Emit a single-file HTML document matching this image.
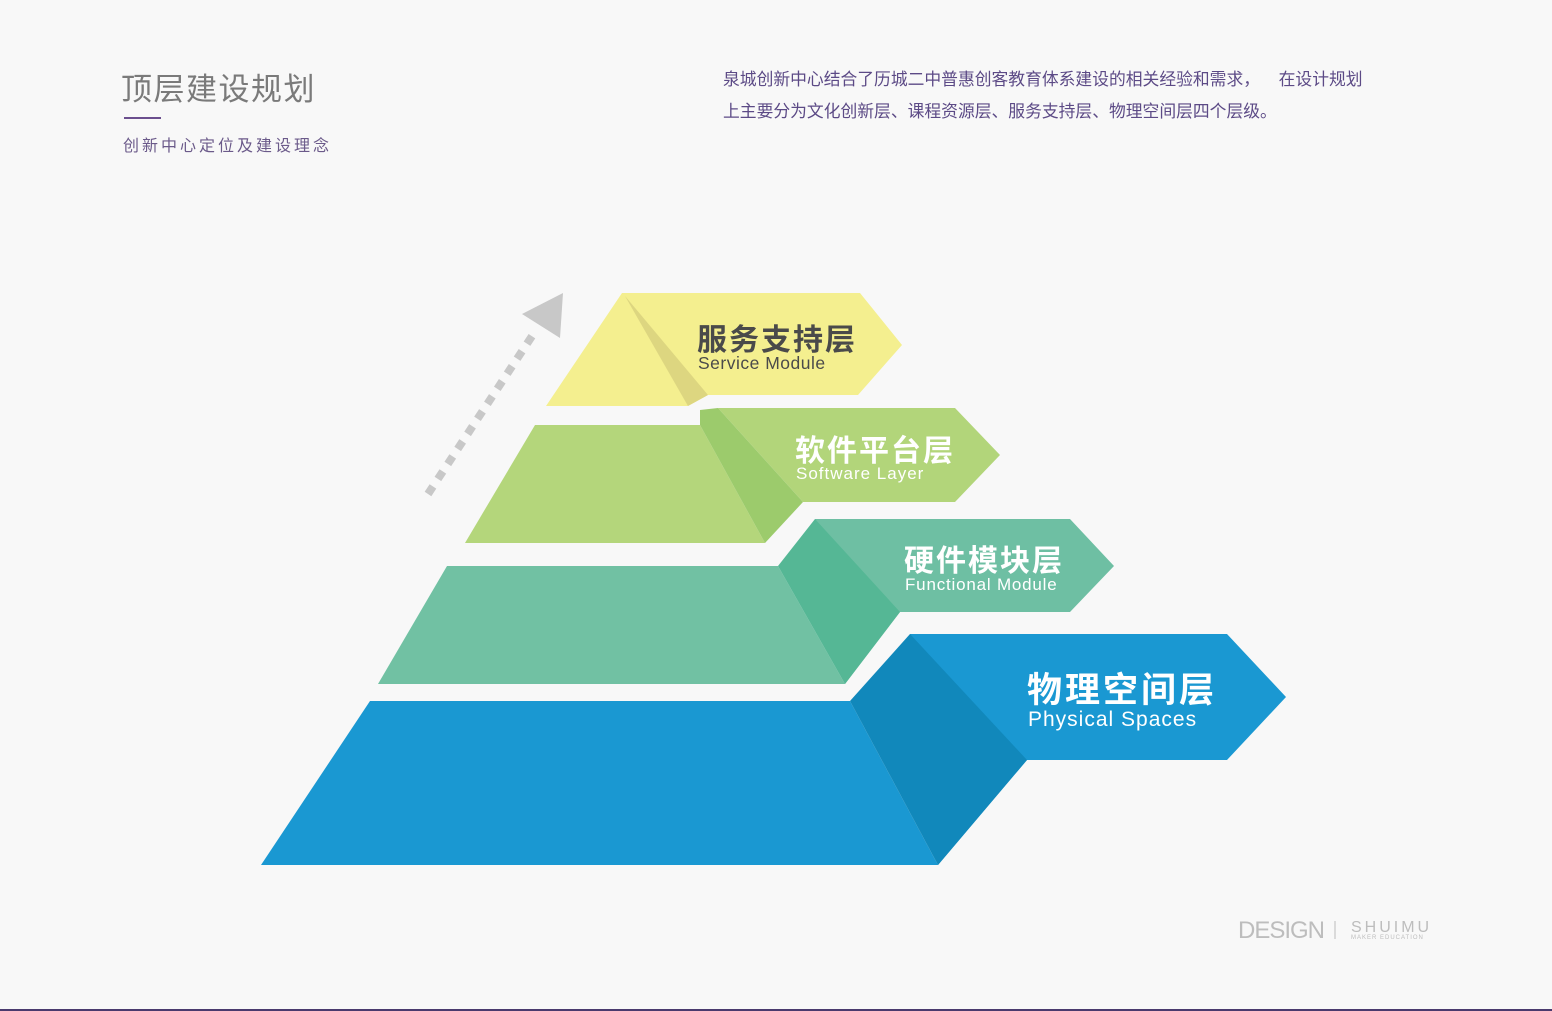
<!DOCTYPE html>
<html><head><meta charset="utf-8"><style>
html,body{margin:0;padding:0;background:#f8f8f8;}
body{width:1552px;height:1011px;position:relative;overflow:hidden;font-family:"Liberation Sans","Noto Sans CJK SC",sans-serif;}
.t{position:absolute;white-space:nowrap;}
</style></head><body>
<div class="t" style="left:121px;top:64px;font-size:31px;color:#7a7a7a;letter-spacing:1.5px;">顶层建设规划</div>
<div style="position:absolute;left:124px;top:117px;width:37px;height:2px;background:#6b4f8e;"></div>
<div class="t" style="left:123px;top:132px;font-size:16px;color:#6b5a8a;letter-spacing:3px;">创新中心定位及建设理念</div>
<div class="t" style="left:723px;top:64px;font-size:16.8px;color:#5c4a86;line-height:32px;">泉城创新中心结合了历城二中普惠创客教育体系建设的相关经验和需求，&nbsp;&nbsp;&nbsp;&nbsp;在设计规划<br>上主要分为文化创新层、课程资源层、服务支持层、物理空间层四个层级。</div>
<svg width="1552" height="1011" style="position:absolute;left:0;top:0" xmlns="http://www.w3.org/2000/svg">
<line x1="428" y1="494" x2="536" y2="330" stroke="#c8c8c8" stroke-width="8" stroke-dasharray="9,9"/>
<polygon points="522,314 563,293 560,338" fill="#c8c8c8"/>
<polygon points="546,406 622,293 860,293 902,345 858,395 708,395 688,406" fill="#f4ef8f"/>
<polygon points="625,296 708,395 688,406" fill="#ddd680"/>
<polygon points="465,543 535,425 700,425 765,543" fill="#b4d67b"/>
<polygon points="718,408 955,408 1000,455 955,502 803,502" fill="#b2d57a"/>
<polygon points="700,425 700,410 718,408 803,502 765,543" fill="#9ccb6c"/>
<polygon points="378,684 447,566 778,566 845,684" fill="#71c1a3"/>
<polygon points="815,519 1070,519 1114,566 1070,612 900,612 845,684" fill="#6ebfa3"/>
<polygon points="815,519 900,612 845,684 778,566" fill="#55b795"/>
<polygon points="261,865 370,701 850,701 938,865" fill="#1a98d2"/>
<polygon points="910,634 1227,634 1286,697 1227,760 1027,760 938,865" fill="#1a98d2"/>
<polygon points="910,634 1027,760 938,865 850,701" fill="#1188bb"/>
<text x="697" y="350" font-size="30" font-weight="bold" fill="#4a4a4a" letter-spacing="2" font-family="Noto Sans CJK SC,sans-serif">服务支持层</text>
<text x="698" y="369" font-size="17.5" fill="#4a4a4a" letter-spacing="0.5" font-family="Liberation Sans,sans-serif">Service Module</text>
<text x="795" y="461" font-size="30" font-weight="bold" fill="#fff" letter-spacing="2" font-family="Noto Sans CJK SC,sans-serif">软件平台层</text>
<text x="796" y="479" font-size="17" fill="#fff" letter-spacing="1" font-family="Liberation Sans,sans-serif">Software Layer</text>
<text x="904" y="571" font-size="30" font-weight="bold" fill="#fff" letter-spacing="2" font-family="Noto Sans CJK SC,sans-serif">硬件模块层</text>
<text x="905" y="590" font-size="17" fill="#fff" letter-spacing="0.8" font-family="Liberation Sans,sans-serif">Functional Module</text>
<text x="1027" y="702" font-size="35" font-weight="bold" fill="#fff" letter-spacing="3" font-family="Noto Sans CJK SC,sans-serif">物理空间层</text>
<text x="1028" y="726" font-size="21" fill="#fff" letter-spacing="1" font-family="Liberation Sans,sans-serif">Physical Spaces</text>
<text x="1238" y="938" font-size="24" fill="#bdbdbd" font-family="Liberation Sans,sans-serif" letter-spacing="-1">DESIGN</text>
<line x1="1335" y1="921" x2="1335" y2="939" stroke="#bdbdbd" stroke-width="1"/>
<text x="1351" y="932" font-size="16" fill="#bdbdbd" letter-spacing="3" font-family="Liberation Sans,sans-serif">SHUIMU</text>
<text x="1351" y="939" font-size="6" fill="#bdbdbd" letter-spacing="1" font-family="Liberation Sans,sans-serif">MAKER EDUCATION</text>
<rect x="0" y="1009" width="1552" height="2" fill="#4a3a6e"/>
</svg>
</body></html>
